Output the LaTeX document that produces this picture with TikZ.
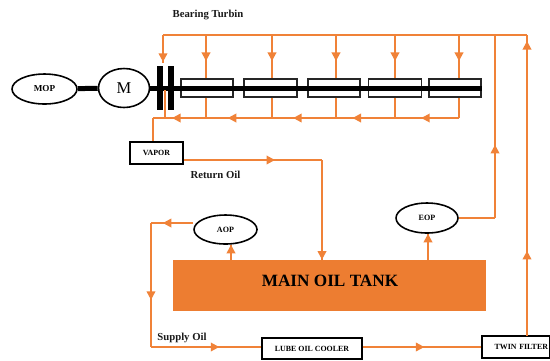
\documentclass[tikz,border=0pt]{standalone}
\usepackage{fontspec}
\setmainfont{Liberation Serif}
\usetikzlibrary{arrows.meta, decorations.markings, shapes.geometric}
\definecolor{oil}{HTML}{F08238}
\definecolor{tankfill}{HTML}{ED7D31}
\tikzset{
  pump/.style   = {draw, ellipse, line width=0.9pt, fill=white, inner sep=0pt,
                   font=\fontsize{4.6}{5}\selectfont\bfseries},
  unit/.style   = {draw, line width=1pt, fill=white, inner sep=0pt, align=center,
                   font=\fontsize{4.5}{5}\selectfont\bfseries},
  bearing/.style= {draw=black!85, thick, fill=white, inner sep=0pt,
                   minimum height=0.36cm},
  collar/.style = {fill=black, inner sep=0pt, minimum width=0.12cm,
                   minimum height=0.88cm},
  caption/.style= {font=\fontsize{6.1}{7}\selectfont\bfseries, black!90},
  shaft/.style  = {line width=0.1cm, black},
  pipe/.style   = {line width=1.1pt, draw=oil},
  tip/.style    = {pipe, postaction={decorate}, decoration={markings,
                   mark=at position #1 with {\arrow[oil]{Triangle[length=0.17cm, width=0.17cm]}}}}
}
\begin{document}
\begin{tikzpicture}[x=0.02cm, y=-0.02cm]
\useasboundingbox (0,0) rectangle (550,360);
% Pumps, motor and coupling
\node[pump, minimum width=1.3cm, minimum height=0.6cm, font=\fontsize{5.2}{6}\selectfont\bfseries] (mop) at (44.5,89) {MOP};
\node[pump, minimum width=1.02cm, minimum height=0.78cm,
      font=\fontsize{9.4}{10}\selectfont] (motor) at (124,88) {M};
\node[collar] (collarA) at (160,88) {};
\node[collar] (collarB) at (171,88) {};
\node[pump, minimum width=1.26cm, minimum height=0.58cm] (aop) at (225.5,229.5) {AOP};
\node[pump, minimum width=1.24cm, minimum height=0.6cm] (eop) at (427,218) {EOP};
% Turbine bearings
\foreach \i/\x/\w in {1/207/1.04, 2/270.5/1.06, 3/334/1.04, 4/395/1.05, 5/455/1.04} {
  \node[bearing, minimum width=\w cm] (brg\i) at (\x,88) {};
}
\draw[shaft] (mop) -- (motor);
\draw[shaft] (motor) -- (motor -| brg5.east);
% Other units and the tank
\node[unit, minimum width=1.06cm, minimum height=0.44cm] (vapor) at (156.5,153) {VAPOR};
\node[unit, minimum width=2cm, minimum height=0.42cm] (cooler) at (312,348.5) {LUBE OIL COOLER};
\node[unit, minimum width=1.36cm, minimum height=0.44cm, text width=1.28cm, align=right] (filter) at (516,347) {TWIN FILTER};
\node[fill=tankfill, minimum width=6.26cm, minimum height=1.02cm] (tank) at (329.5,285.5) {};
\node[font=\fontsize{9.8}{11}\selectfont\bfseries] (tanklabel) at (330,281) {MAIN OIL TANK};
% Captions
\node[caption] (capbrg) at (208,15) {Bearing Turbin};
\node[caption] (capret) at (215.5,175) {Return Oil};
\node[caption] (capsup) at (182,337.5) {Supply Oil};
% Header above the bearings
\coordinate (headL) at (163,35);
\coordinate (headR) at (527,35);
\draw[pipe] (headL) -- (headR);
\draw[tip=0.96] (headL) -- (163,63);
\foreach \i/\x in {1/206, 2/272, 3/336, 4/395, 5/459} {
  \coordinate (top\i) at (\x,35);
  \coordinate (bot\i) at (\x,118);
  \draw[tip=0.6] (top\i) -- (top\i |- brg\i.north);
  \draw[pipe] (bot\i |- brg\i.south) -- (bot\i);
}
% Return line
\coordinate (retL) at (153,118);
\coordinate (cplg) at (165,90);
\draw[tip=0.59] (bot5) -- (bot4);
\draw[tip=0.72] (bot4) -- (bot3);
\draw[tip=0.67] (bot3) -- (bot2);
\draw[tip=0.67] (bot2) -- (bot1);
\draw[tip=0.64] (bot1) -- (retL);
\draw[pipe] (retL) -- (retL |- vapor.north);
\draw[pipe] (cplg) -- (cplg |- retL);
% Vapor extractor to the tank
\coordinate (retR) at (322,160);
\draw[tip=0.66] (vapor.east |- retR) -- (retR);
\draw[tip=1] (retR) -- (retR |- tank.north);
% Auxiliary pump and supply line
\coordinate (aopL) at (151,223);
\coordinate (supL) at (151,347);
\coordinate (aopT) at (231,260);
\coordinate (eopT) at (428,260);
\draw[tip=1] (aopT) -- (aopT |- aop.south);
\draw[tip=0.72] (aop.west |- aopL) -- (aopL);
\draw[tip=0.62] (aopL) -- (supL);
\draw[tip=0.62] (supL) -- (supL -| cooler.west);
\draw[tip=0.52] (cooler.east |- supL) -- (supL -| filter.west);
% Filter and emergency pump up to the header
\coordinate (eopR) at (495,218);
\coordinate (filT) at (527,336);
\coordinate (filM) at (527,250);
\draw[tip=0.98] (filT) -- (headR);
\draw[tip=0.99] (filT) -- (filM);
\draw[tip=1] (eopT) -- (eopT |- eop.south);
\draw[pipe] (eop.east) -- (eopR);
\draw[tip=0.4] (eopR) -- (eopR |- headR);
\end{tikzpicture}
\end{document}
